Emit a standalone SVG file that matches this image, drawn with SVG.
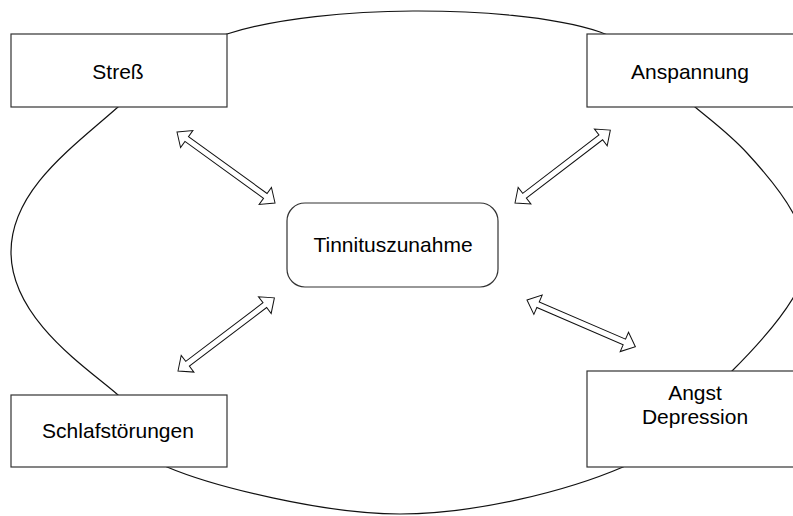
<svg xmlns="http://www.w3.org/2000/svg" width="793" height="516" viewBox="0 0 793 516">
<style>
.bg{fill:#fff}
.loop{fill:none;stroke:#111;stroke-width:1.2}
.box{fill:#fff;stroke:#333;stroke-width:1.2}
.arr{fill:#fff;stroke:#111;stroke-width:1;stroke-linejoin:miter}
.lbl{font-family:"Liberation Sans",Arial,sans-serif;font-size:21px;fill:#000;text-anchor:middle}
</style>
<rect class="bg" x="0" y="0" width="793" height="516"/>
<g id="cycle">
<path class="loop" d="M413,11 C475.2,10.7 553,16 600,32 C647,48 670.5,86.8 695,107 C719.5,127.2 730.7,135.3 747,153 C763.3,170.7 783.8,196 793,213 C802.2,230 802,240.8 802,255 C802,269.2 804.7,278.7 793,298 C781.3,317.3 760.3,342.8 732,371 C703.7,399.2 678.3,443.2 623,467 C567.7,490.8 476,514 400,514 C324,514 214,486.8 167,467 C120,447.2 140,415 118,395 C90,370 11,320 11,252 C11,190 73,147 118,107 C147.5,84.8 177.8,50 227,34 C276.2,18 351,11.3 413,11 Z"/>
</g>
<g id="connectors">
<polygon class="arr" transform="translate(177,132) rotate(35.9)" points="0,0 12,-10.5 12,-3 109,-3 109,-10.5 121,0 109,10.5 109,3 12,3 12,10.5"/>
<polygon class="arr" transform="translate(515,203) rotate(-37.4)" points="0,0 12,-10.5 12,-3 108,-3 108,-10.5 120,0 108,10.5 108,3 12,3 12,10.5"/>
<polygon class="arr" transform="translate(178,371) rotate(-37.2)" points="0,0 12,-10.5 12,-3 109,-3 109,-10.5 121,0 109,10.5 109,3 12,3 12,10.5"/>
<polygon class="arr" transform="translate(527,300) rotate(23.3)" points="0,0 12,-10.5 12,-3 106,-3 106,-10.5 118,0 106,10.5 106,3 12,3 12,10.5"/>
</g>
<g id="stress">
<rect class="box" x="11" y="34" width="216" height="73"/>
<text class="lbl" x="118" y="79">Streß</text>
</g>
<g id="anspannung">
<rect class="box" x="587" y="34" width="220" height="73"/>
<text class="lbl" x="690" y="79">Anspannung</text>
</g>
<g id="schlafstoerungen">
<rect class="box" x="11" y="395" width="216" height="72"/>
<text class="lbl" x="118" y="438">Schlafstörungen</text>
</g>
<g id="angst">
<rect class="box" x="587" y="371" width="220" height="96"/>
<text class="lbl" x="695" y="400">Angst</text>
<text class="lbl" x="695" y="424">Depression</text>
</g>
<g id="tinnitus">
<rect class="box" x="287" y="203" width="211" height="84" rx="18" ry="18"/>
<text class="lbl" x="393" y="252">Tinnituszunahme</text>
</g>
</svg>
